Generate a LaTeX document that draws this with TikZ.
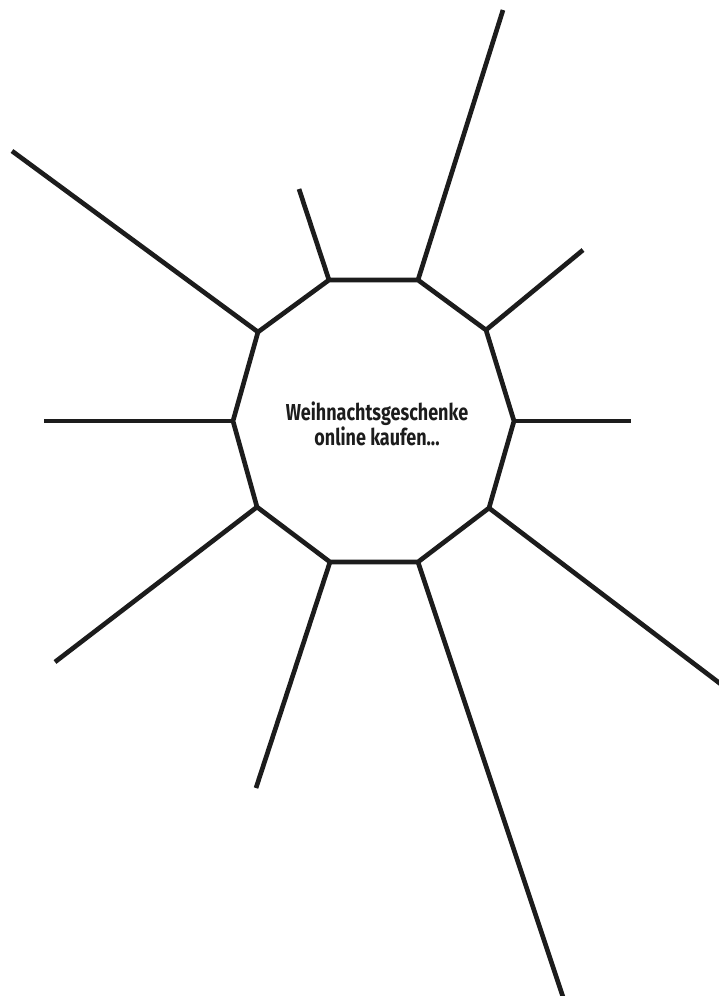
\documentclass[tikz,border=0pt]{standalone}
\usepackage{fontspec}
\setmainfont{Fira Sans}[FakeStretch=0.78]
\usepackage{tikz}
\usetikzlibrary{positioning}
\definecolor{Ink}{HTML}{1C1C1C}
\tikzset{
  rim/.style={draw=Ink, line width=3.5pt, line join=miter},
  ray/.style={draw=Ink, line width=3.5pt},
  topic/.style={align=center, font=\bfseries\fontsize{17.3}{19}\selectfont, text=Ink, inner sep=0pt}
}

\begin{document}
\begin{tikzpicture}[x=0.75pt, y=-0.75pt]
\useasboundingbox (0,0) rectangle (718,996);
% corners of the ten-sided frame
\coordinate (v1) at (329,280);
\coordinate (v2) at (418,280);
\coordinate (v3) at (486,330);
\coordinate (v4) at (514,421);
\coordinate (v5) at (489,508);
\coordinate (v6) at (418,562);
\coordinate (v7) at (330,562);
\coordinate (v8) at (257,507);
\coordinate (v9) at (233,421);
\coordinate (v10) at (258,332);
% free ends of the rays
\coordinate (e1) at (299,189);
\coordinate (e2) at (503,10);
\coordinate (e3) at (583,250);
\coordinate (e4) at (631,421);
\coordinate (e5) at (722,685);
\coordinate (e6) at (564,1000);
\coordinate (e7) at (256,788);
\coordinate (e8) at (55,662);
\coordinate (e9) at (44,421);
\coordinate (e10) at (12,151);
\node[topic] (wish) at (377,424) {Weihnachtsgeschenke\\online kaufen...};
\draw[rim] (v1) -- (v2) -- (v3) -- (v4) -- (v5) -- (v6) -- (v7) -- (v8) -- (v9) -- (v10) -- cycle;
\foreach \i in {1,...,10} \draw[ray] (v\i) -- (e\i);
\end{tikzpicture}
\end{document}
